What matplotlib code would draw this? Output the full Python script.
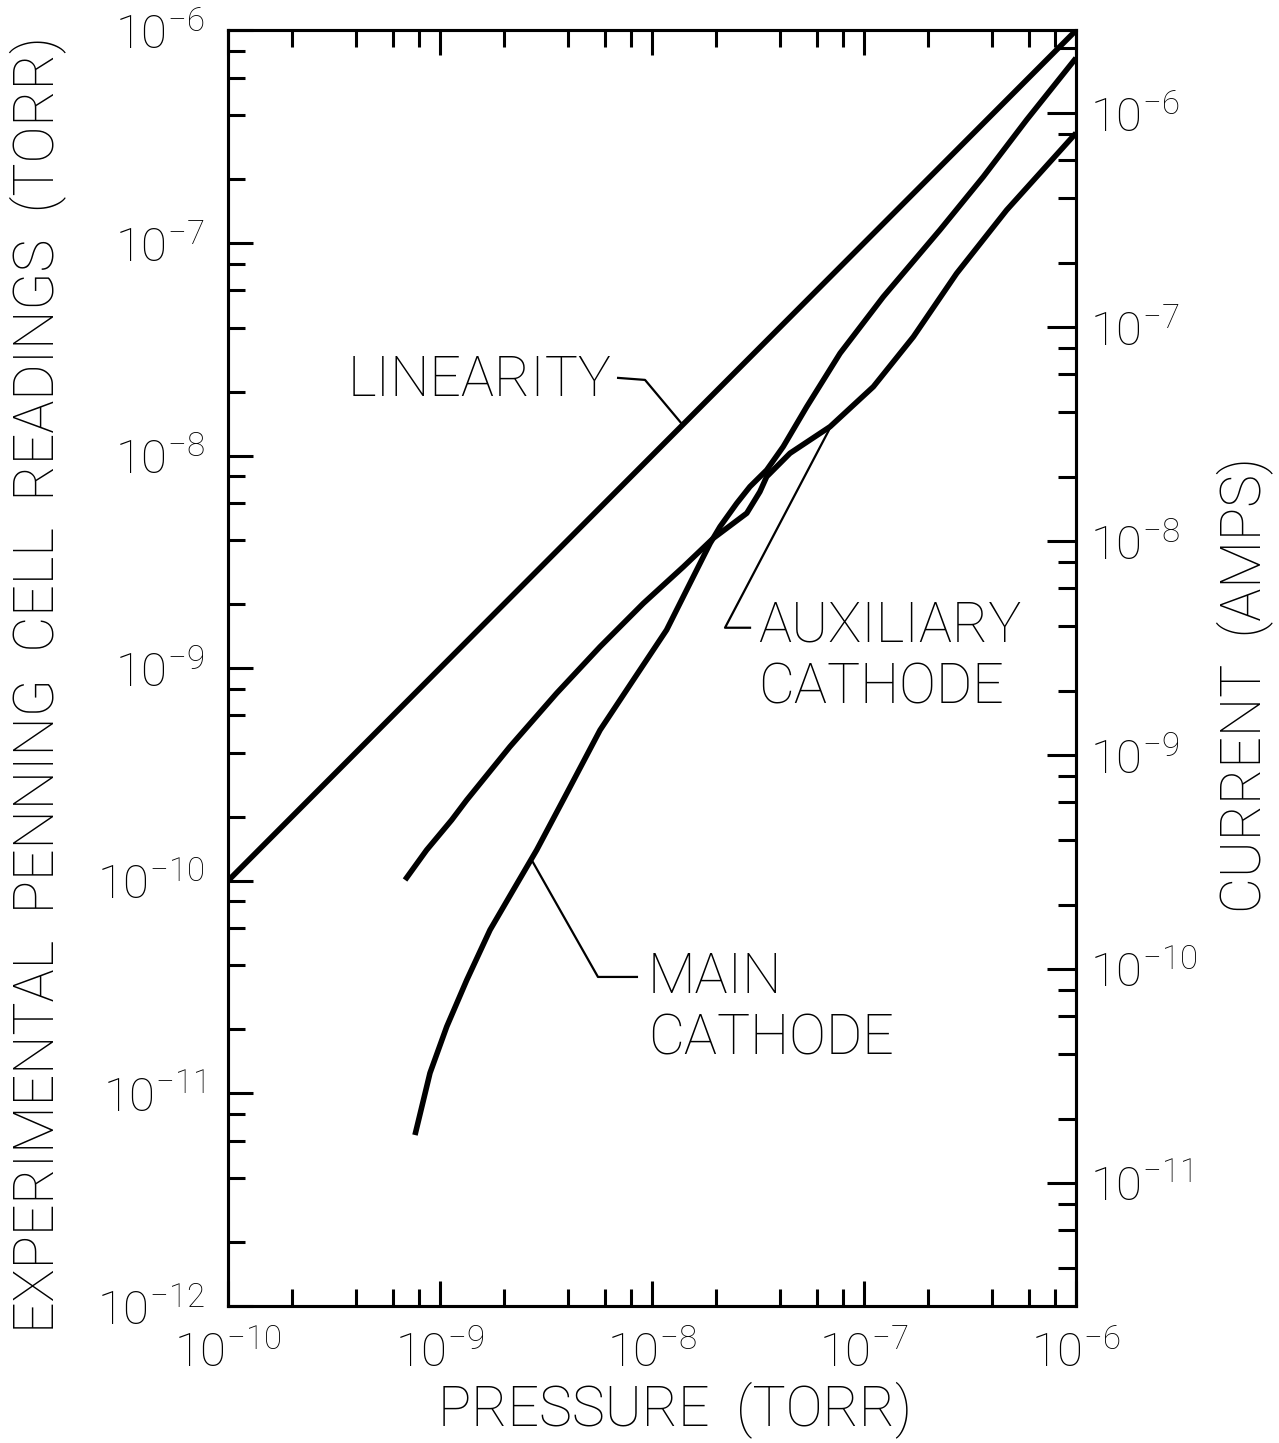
import matplotlib
matplotlib.use('Agg')
import matplotlib.pyplot as plt
from matplotlib.ticker import FixedLocator, FixedFormatter, LogLocator, NullFormatter

# ---------------- data ----------------
lin_pressure = [1e-10, 1e-6]
lin_reading = [1e-10, 1e-6]

main_pressure = [7.62e-10, 8.97e-10, 1.076e-9, 1.337e-9, 1.722e-9, 2.218e-9, 2.858e-9,
                 3.963e-9, 5.689e-9, 8.166e-9, 1.172e-8, 1.510e-8, 1.879e-8, 2.094e-8,
                 2.512e-8, 2.897e-8, 3.475e-8, 4.159e-8, 5.370e-8, 7.709e-8, 1.233e-7,
                 2.280e-7, 3.656e-7, 5.848e-7, 1.0e-6]
main_reading = [6.37e-12, 1.247e-11, 2.061e-11, 3.412e-11, 5.875e-11, 9.06e-11, 1.396e-10,
                2.582e-10, 5.117e-10, 8.810e-10, 1.514e-9, 2.506e-9, 3.864e-9, 4.634e-9,
                5.970e-9, 7.145e-9, 8.551e-9, 1.102e-8, 1.698e-8, 3.027e-8, 5.585e-8,
                1.151e-7, 2.051e-7, 3.793e-7, 7.413e-7]

aux_pressure = [6.84e-10, 8.65e-10, 1.135e-9, 1.337e-9, 2.138e-9, 3.548e-9, 5.689e-9,
                9.10e-9, 1.406e-8, 1.945e-8, 2.799e-8, 3.228e-8, 3.475e-8, 4.477e-8,
                6.918e-8, 1.107e-7, 1.710e-7, 2.735e-7, 4.710e-7, 1.0e-6]
aux_reading = [1.009e-10, 1.396e-10, 1.932e-10, 2.399e-10, 4.276e-10, 7.621e-10, 1.262e-9,
               2.018e-9, 2.999e-9, 4.083e-9, 5.358e-9, 6.761e-9, 7.962e-9, 1.026e-8,
               1.368e-8, 2.109e-8, 3.622e-8, 7.194e-8, 1.429e-7, 3.289e-7]

x_ticks = [1e-10, 1e-9, 1e-8, 1e-7, 1e-6]
x_tick_labels = [r'$10^{-10}$', r'$10^{-9}$', r'$10^{-8}$', r'$10^{-7}$', r'$10^{-6}$']
y_ticks = [1e-12, 1e-11, 1e-10, 1e-9, 1e-8, 1e-7, 1e-6]
y_tick_labels = [r'$10^{-12}$', r'$10^{-11}$', r'$10^{-10}$', r'$10^{-9}$',
                 r'$10^{-8}$', r'$10^{-7}$', r'$10^{-6}$']
y2_ticks = [1e-11, 1e-10, 1e-9, 1e-8, 1e-7, 1e-6]
y2_tick_labels = [r'$10^{-11}$', r'$10^{-10}$', r'$10^{-9}$', r'$10^{-8}$',
                  r'$10^{-7}$', r'$10^{-6}$']
y2_limits = [2.66e-12, 2.43e-6]

x_label = 'PRESSURE  (TORR)'
y_label = 'EXPERIMENTAL  PENNING  CELL  READINGS  (TORR)'
y2_label = 'CURRENT  (AMPS)'

# annotation leader lines (data coordinates)
lin_leader_x = [6.92e-9, 9.27e-9, 1.40e-8]
lin_leader_y = [2.32e-8, 2.27e-8, 1.39e-8]
aux_leader_x = [6.92e-8, 2.21e-8, 2.90e-8]
aux_leader_y = [1.35e-8, 1.55e-9, 1.55e-9]
main_leader_x = [2.71e-9, 5.56e-9, 8.49e-9]
main_leader_y = [1.25e-10, 3.53e-11, 3.53e-11]

# ---------------- style ----------------
plt.rcParams['font.family'] = ['Roboto', 'DejaVu Sans']
plt.rcParams['font.weight'] = 'light'
plt.rcParams['mathtext.default'] = 'regular'

W, H = 1279, 1443
fig = plt.figure(figsize=(W / 100, H / 100), dpi=100)
left, right, top, bottom = 228, 1076, 30.4, 1306
ax = fig.add_axes([left / W, 1 - bottom / H, (right - left) / W, (bottom - top) / H])

LW = 4.0
for xs, ys in [(lin_pressure, lin_reading), (main_pressure, main_reading),
               (aux_pressure, aux_reading)]:
    ax.plot(xs, ys, color='black', lw=LW, solid_capstyle='butt', solid_joinstyle='round')

LL = 1.6
ax.plot(lin_leader_x, lin_leader_y, color='black', lw=LL)
ax.plot(aux_leader_x, aux_leader_y, color='black', lw=LL)
ax.plot(main_leader_x, main_leader_y, color='black', lw=LL)

ax.set_xscale('log')
ax.set_yscale('log')
ax.set_xlim(1e-10, 1e-6)
ax.set_ylim(1e-12, 1e-6)

ax.xaxis.set_major_locator(FixedLocator(x_ticks))
ax.xaxis.set_major_formatter(FixedFormatter(x_tick_labels))
ax.yaxis.set_major_locator(FixedLocator(y_ticks))
ax.yaxis.set_major_formatter(FixedFormatter(y_tick_labels))
ax.xaxis.set_minor_locator(LogLocator(base=10, subs=(2, 4, 6, 8)))
ax.yaxis.set_minor_locator(LogLocator(base=10, subs=(2, 4, 6, 8)))
ax.xaxis.set_minor_formatter(NullFormatter())
ax.yaxis.set_minor_formatter(NullFormatter())

ax.tick_params(which='both', direction='in', top=True, right=False, width=2.2,
               labelsize=34, colors='black')
ax.tick_params(which='major', length=18)
ax.tick_params(which='minor', length=12)
ax.tick_params(axis='x', which='major', pad=17)
ax.tick_params(axis='y', which='major', pad=17)
for s in ax.spines.values():
    s.set_linewidth(2.2)

ax2 = ax.twinx()
ax2.set_yscale('log')
ax2.set_ylim(*y2_limits)
ax2.yaxis.set_major_locator(FixedLocator(y2_ticks))
ax2.yaxis.set_major_formatter(FixedFormatter(y2_tick_labels))
ax2.yaxis.set_minor_locator(LogLocator(base=10, subs=(2, 4, 6, 8)))
ax2.yaxis.set_minor_formatter(NullFormatter())
ax2.tick_params(which='both', direction='in', width=2.2, labelsize=34, pad=10)
ax2.tick_params(which='major', length=21)
ax2.tick_params(which='minor', length=13)
for s in ax2.spines.values():
    s.set_linewidth(2.2)

fs_lab = 40
fig.text(38 / W, 1 - 685 / H, y_label, rotation=90, ha='center', va='center', fontsize=fs_lab)
fig.text(1245 / W, 1 - 685 / H, y2_label, rotation=90, ha='center', va='center', fontsize=fs_lab)
fig.text(675 / W, 1 - 1410 / H, x_label, ha='center', va='center', fontsize=fs_lab)

fs_ann = 40
ax.text((612 - left) / (right - left), (bottom - 380) / (bottom - top), 'LINEARITY',
        transform=ax.transAxes, ha='right', va='center', fontsize=fs_ann)
ax.text((758 - left) / (right - left), (bottom - 657) / (bottom - top), 'AUXILIARY\nCATHODE',
        transform=ax.transAxes, ha='left', va='center', fontsize=fs_ann, linespacing=1.2)
ax.text((648 - left) / (right - left), (bottom - 1008) / (bottom - top), 'MAIN\nCATHODE',
        transform=ax.transAxes, ha='left', va='center', fontsize=fs_ann, linespacing=1.2)

fig.savefig('out.png', dpi=100, facecolor='white')
